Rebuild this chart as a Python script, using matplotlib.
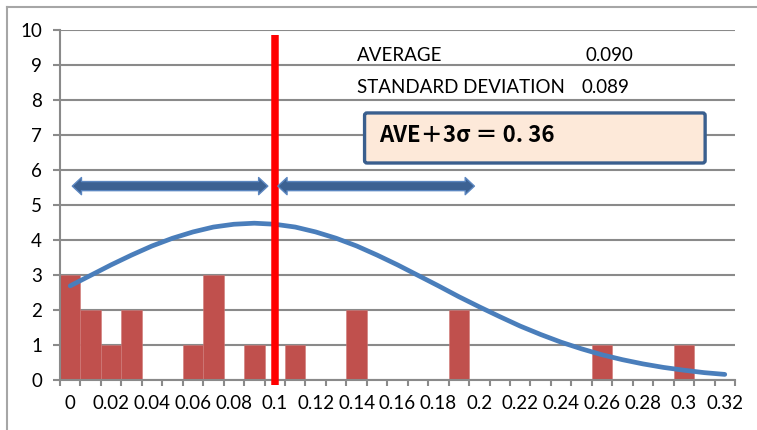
import numpy as np
import matplotlib.pyplot as plt
from matplotlib.patches import Polygon, FancyBboxPatch
from matplotlib.lines import Line2D
from matplotlib.ticker import FixedLocator

##### Data #############################
# one category per 0.01 step, 0.00 ... 0.32
counts = [3, 2, 1, 2, 0, 0, 1, 3, 0, 1, 0, 1, 0, 0, 2, 0, 0,
          0, 0, 2, 0, 0, 0, 0, 0, 0, 1, 0, 0, 0, 1, 0, 0]
curve = [2.69, 2.99, 3.29, 3.57, 3.83, 4.05, 4.23, 4.37, 4.45, 4.48, 4.45,
         4.37, 4.23, 4.05, 3.83, 3.57, 3.29, 2.99, 2.69, 2.38, 2.09, 1.81,
         1.54, 1.30, 1.08, 0.89, 0.72, 0.58, 0.46, 0.36, 0.28, 0.21, 0.16]
xlabels = ['0', '0.02', '0.04', '0.06', '0.08', '0.1', '0.12', '0.14', '0.16',
           '0.18', '0.2', '0.22', '0.24', '0.26', '0.28', '0.3', '0.32']
limit_cat = 10          # category of 0.1 (red limit line)
average = '0.090'
std_dev = '0.089'
box_text = 'AVE＋3σ ＝ 0. 36'

plt.rcParams['font.family'] = ['Lato', 'DejaVu Sans']

fig = plt.figure(figsize=(7.57, 4.30), dpi=100)
ax = fig.add_axes([60 / 757, 1 - 380 / 430, 675 / 757, 350 / 430])

x = np.arange(len(counts))
grey = '#8a8a8a'
fs = 13.5

ax.bar(x, counts, width=1.0, color='#C0504D', edgecolor='#cf7a78',
       linewidth=0.4, zorder=2)
ax.plot(x, curve, color='#4A7EBB', lw=3.4, solid_capstyle='round', zorder=3)
ax.plot([limit_cat, limit_cat], [-0.14, 9.86], color='#FF0000', lw=5.4,
        solid_capstyle='butt', zorder=4, clip_on=False)

ax.set_xlim(-0.5, len(counts) - 0.5)
ax.set_ylim(0, 10)

# axes styling (Excel look)
for s in ['top', 'right']:
    ax.spines[s].set_visible(False)
for s in ['left', 'bottom']:
    ax.spines[s].set_color(grey)
    ax.spines[s].set_linewidth(1.5)
ax.set_yticks(range(0, 11))
ax.yaxis.grid(True, color=grey, lw=1.5, zorder=0)
ax.set_axisbelow(True)
ax.tick_params(axis='y', length=5, width=1.5, color=grey, pad=8, labelsize=fs)

ax.set_xticks(x[::2])
ax.set_xticklabels(xlabels)
ax.xaxis.set_minor_locator(FixedLocator(np.arange(len(counts) + 1) - 0.5))
ax.tick_params(axis='x', which='major', length=0, pad=11, labelsize=fs)
ax.tick_params(axis='x', which='minor', length=4.5, width=1.5, color=grey)


####### Double-headed block arrows ###########
def block_arrow(x0, x1, y, shaft=0.13, head=0.245, hlen=0.45):
    pts = [(x0, y), (x0 + hlen, y + head), (x0 + hlen, y + shaft),
           (x1 - hlen, y + shaft), (x1 - hlen, y + head), (x1, y),
           (x1 - hlen, y - head), (x1 - hlen, y - shaft),
           (x0 + hlen, y - shaft), (x0 + hlen, y - head)]
    ax.add_patch(Polygon(pts, closed=True, facecolor='#3C6192',
                         edgecolor='#5B86C0', lw=1.0, zorder=5,
                         joinstyle='round'))


block_arrow(0.1, 9.66, 5.54)
block_arrow(10.15, 19.76, 5.54)

####### Summary text and box ###########
ax.text(14.0, 9.26, 'AVERAGE', fontsize=fs, va='center', ha='left', zorder=6)
ax.text(25.18, 9.26, average, fontsize=fs, va='center', ha='left', zorder=6)
ax.text(14.0, 8.37, 'STANDARD DEVIATION', fontsize=fs, va='center',
        ha='left', zorder=6)
ax.text(24.99, 8.37, std_dev, fontsize=fs, va='center', ha='left', zorder=6)

ax.add_patch(FancyBboxPatch((14.39, 6.2), 16.65, 1.43,
                            boxstyle='round,pad=0,rounding_size=0.12',
                            facecolor='#FDE9D9', edgecolor='#3A5F8E',
                            lw=2.4, zorder=6, mutation_aspect=1 / 1.7))
ax.text(15.12, 6.98, box_text, fontsize=16, fontweight='bold',
        family=['Noto Sans CJK JP', 'DejaVu Sans'], va='center', ha='left',
        zorder=7)

####### Chart area border (top and left) ###########
fig.add_artist(Line2D([7 / 757, 7 / 757], [0, 1 - 7 / 430], color='#a6a6a6',
                      lw=1.5, transform=fig.transFigure))
fig.add_artist(Line2D([7 / 757, 1], [1 - 7 / 430, 1 - 7 / 430],
                      color='#a6a6a6', lw=1.5, transform=fig.transFigure))

plt.savefig('out.png', dpi=100)
